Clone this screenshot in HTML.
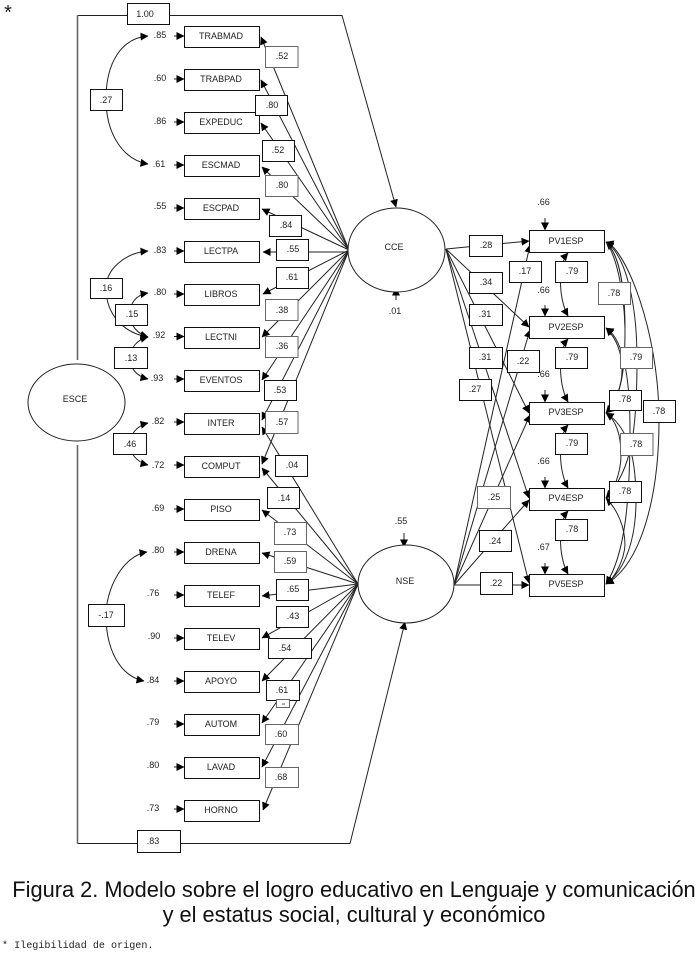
<!DOCTYPE html>
<html><head><meta charset="utf-8"><title>Figura 2</title>
<style>
html,body{margin:0;padding:0;background:#fff;width:698px;height:955px;overflow:hidden}
svg{display:block;position:absolute;left:0;top:0}
text{font-family:"Liberation Sans",Arial,sans-serif;font-size:9px;fill:#222;text-anchor:middle}
.l{fill:none;stroke:#222;stroke-width:1}
rect{fill:#fff;stroke:#111;stroke-width:1}
rect.g{stroke:#666}
</style></head><body>
<svg width="698" height="955" viewBox="0 0 698 955" xmlns="http://www.w3.org/2000/svg">
<defs>
<marker id="a" viewBox="0 0 8 8" refX="7.5" refY="4" markerWidth="8" markerHeight="8" markerUnits="userSpaceOnUse" orient="auto-start-reverse"><path d="M0,0L8,4L0,8z" fill="#000"/></marker>
</defs>

<!-- outer frame -->
<path d="M77.5,15.5H342L396,207" class="l" marker-end="url(#a)"/>
<path d="M77.5,843.5H350L405,622" class="l" marker-end="url(#a)"/>
<path d="M77.5,360V15.5M77.5,445V843.5" fill="none" stroke="#666" stroke-width="1.6"/>

<!-- residual arrows left -->
<path class="l" marker-end="url(#a)" d="M174,36H184"/><path class="l" marker-end="url(#a)" d="M174,79H184"/><path class="l" marker-end="url(#a)" d="M174,122H184"/><path class="l" marker-end="url(#a)" d="M174,165H184"/><path class="l" marker-end="url(#a)" d="M174,208H184"/><path class="l" marker-end="url(#a)" d="M174,251H184"/><path class="l" marker-end="url(#a)" d="M174,294H184"/><path class="l" marker-end="url(#a)" d="M174,336.5H184"/><path class="l" marker-end="url(#a)" d="M174,379H184"/><path class="l" marker-end="url(#a)" d="M174,422H184"/><path class="l" marker-end="url(#a)" d="M174,465H184"/><path class="l" marker-end="url(#a)" d="M174,509H184"/><path class="l" marker-end="url(#a)" d="M174,552H184"/><path class="l" marker-end="url(#a)" d="M174,595H184"/><path class="l" marker-end="url(#a)" d="M174,638H184"/><path class="l" marker-end="url(#a)" d="M174,681H184"/><path class="l" marker-end="url(#a)" d="M174,724H184"/><path class="l" marker-end="url(#a)" d="M174,767H184"/><path class="l" marker-end="url(#a)" d="M174,809H184"/>

<!-- covariances left -->
<path class="l" marker-start="url(#a)" marker-end="url(#a)" d="M148,36C122,38 106,62 106,99C106,135 124,160 148,164"/>
<path class="l" marker-start="url(#a)" marker-end="url(#a)" d="M148,251C124,253 106,270 106,288C106,315 124,333 148,337"/>
<path class="l" marker-start="url(#a)" marker-end="url(#a)" d="M148,293C135,295 130,304 130,314C130,326 138,334 148,337"/>
<path class="l" marker-start="url(#a)" marker-end="url(#a)" d="M148,337C136,340 130,349 130,358C130,368 136,376 148,379"/>
<path class="l" marker-start="url(#a)" marker-end="url(#a)" d="M148,423C136,426 130,435 130,444C130,453 136,462 148,465"/>
<path class="l" marker-start="url(#a)" marker-end="url(#a)" d="M147,552C122,556 106,590 106,615C106,650 120,676 144,681"/>

<!-- CCE paths -->
<path class="l" marker-end="url(#a)" d="M349,250L261,37"/>
<path class="l" marker-end="url(#a)" d="M349,250L261,80"/>
<path class="l" marker-end="url(#a)" d="M349,250L261,123"/>
<path class="l" marker-end="url(#a)" d="M349,250L262,167"/>
<path class="l" marker-end="url(#a)" d="M349,250L262,209"/>
<path class="l" marker-end="url(#a)" d="M349,252H263"/>
<path class="l" marker-end="url(#a)" d="M349,250L263,294"/>
<path class="l" marker-end="url(#a)" d="M349,250L262,337"/>
<path class="l" marker-end="url(#a)" d="M349,250L262,380"/>
<path class="l" marker-end="url(#a)" d="M349,250L262,420"/>
<path class="l" marker-end="url(#a)" d="M349,250L262,464"/>
<!-- NSE paths -->
<path class="l" marker-end="url(#a)" d="M358,584L262,427"/>
<path class="l" marker-end="url(#a)" d="M358,584L262,468"/>
<path class="l" marker-end="url(#a)" d="M358,584L262,510"/>
<path class="l" marker-end="url(#a)" d="M358,584L262,553"/>
<path class="l" marker-end="url(#a)" d="M358,584L262,596"/>
<path class="l" marker-end="url(#a)" d="M358,584L262,638"/>
<path class="l" marker-end="url(#a)" d="M358,584L262,681"/>
<path class="l" marker-end="url(#a)" d="M358,584L262,723"/>
<path class="l" marker-end="url(#a)" d="M358,584L262,767"/>
<path class="l" marker-end="url(#a)" d="M358,584L263,810"/>

<!-- right structural paths -->
<path class="l" marker-end="url(#a)" d="M446,249L529,241"/>
<path class="l" marker-end="url(#a)" d="M446,249L529,327"/>
<path class="l" marker-end="url(#a)" d="M446,249L529,413"/>
<path class="l" marker-end="url(#a)" d="M446,249L529,498"/>
<path class="l" marker-end="url(#a)" d="M446,249L529,583"/>
<path class="l" marker-end="url(#a)" d="M454,585L530,245"/>
<path class="l" marker-end="url(#a)" d="M454,585L530,330"/>
<path class="l" marker-end="url(#a)" d="M454,585L530,415"/>
<path class="l" marker-end="url(#a)" d="M454,585L529,500"/>
<path class="l" marker-end="url(#a)" d="M454,585H529"/>

<!-- residual arrows right -->
<path class="l" marker-end="url(#a)" d="M545,218V230"/>
<path class="l" marker-end="url(#a)" d="M545,305V316"/>
<path class="l" marker-end="url(#a)" d="M545,390V402"/>
<path class="l" marker-end="url(#a)" d="M545,477V488"/>
<path class="l" marker-end="url(#a)" d="M545,563V574"/>
<path class="l" marker-end="url(#a)" d="M396,300V288"/>
<path class="l" marker-end="url(#a)" d="M404,533V547"/>

<!-- between PV -->
<path class="l" marker-start="url(#a)" marker-end="url(#a)" d="M568,253C558,264 558,298 568,316"/>
<path class="l" marker-start="url(#a)" marker-end="url(#a)" d="M568,339C558,350 558,384 568,402"/>
<path class="l" marker-start="url(#a)" marker-end="url(#a)" d="M568,425C558,436 558,470 568,488"/>
<path class="l" marker-start="url(#a)" marker-end="url(#a)" d="M568,511C558,522 558,556 568,574"/>

<!-- right covariances -->
<path class="l" marker-start="url(#a)" marker-end="url(#a)" d="M606,242C625,248 659,330 659,420C659,500 640,565 606,584"/>
<path class="l" marker-start="url(#a)" marker-end="url(#a)" d="M606,242C625,255 637,300 637,360C637,430 632,470 606,498"/>
<path class="l" marker-start="url(#a)" marker-end="url(#a)" d="M606,242C620,255 625,290 625,330C625,370 622,395 606,413"/>
<path class="l" d="M606,242C616,255 624,290 625,328"/>
<path class="l" marker-start="url(#a)" marker-end="url(#a)" d="M606,328C616,338 622,352 622,370C622,388 614,406 606,413"/>
<path class="l" marker-start="url(#a)" marker-end="url(#a)" d="M606,328C622,338 630,372 630,430C630,500 625,555 606,584"/>
<path class="l" marker-start="url(#a)" marker-end="url(#a)" d="M606,413C625,425 636,450 636,500C636,540 625,570 606,584"/>
<path class="l" marker-start="url(#a)" marker-end="url(#a)" d="M606,413C616,420 621,435 621,455C621,470 615,490 606,498"/>
<path class="l" marker-start="url(#a)" marker-end="url(#a)" d="M606,498C618,510 625,528 625,545C624,560 615,578 606,584"/>

<!-- ellipses -->
<ellipse cx="76.5" cy="402.5" rx="48.5" ry="38.5" fill="#fff" stroke="#222"/>
<ellipse cx="396.5" cy="250" rx="48.5" ry="42" fill="#fff" stroke="#222"/>
<ellipse cx="406" cy="584" rx="48" ry="39" fill="#fff" stroke="#222"/>
<text x="75" y="402">ESCE</text>
<text x="394" y="250">CCE</text>
<text x="405" y="584">NSE</text>

<!-- variable boxes -->
<rect x="184.5" y="26.5" width="75" height="21"/><text x="221" y="39">TRABMAD</text>
<rect x="184.5" y="69.5" width="75" height="21"/><text x="221" y="82">TRABPAD</text>
<rect x="184.5" y="112.5" width="75" height="21"/><text x="221" y="125">EXPEDUC</text>
<rect x="184.5" y="155.5" width="75" height="21"/><text x="221" y="168">ESCMAD</text>
<rect x="184.5" y="198.5" width="75" height="21"/><text x="221" y="211">ESCPAD</text>
<rect x="184.5" y="241.5" width="75" height="21"/><text x="221" y="254">LECTPA</text>
<rect x="184.5" y="284.5" width="75" height="21"/><text x="221" y="297">LIBROS</text>
<rect x="184.5" y="327.5" width="75" height="21"/><text x="221" y="340">LECTNI</text>
<rect x="184.5" y="370.5" width="75" height="21"/><text x="221" y="383">EVENTOS</text>
<rect x="184.5" y="413.5" width="75" height="21"/><text x="221" y="426">INTER</text>
<rect x="184.5" y="456.5" width="75" height="21"/><text x="221" y="469">COMPUT</text>
<rect x="184.5" y="499.5" width="75" height="21"/><text x="221" y="512">PISO</text>
<rect x="184.5" y="542.5" width="75" height="21"/><text x="221" y="555">DRENA</text>
<rect x="184.5" y="585.5" width="75" height="21"/><text x="221" y="598">TELEF</text>
<rect x="184.5" y="628.5" width="75" height="21"/><text x="221" y="641">TELEV</text>
<rect x="184.5" y="671.5" width="75" height="21"/><text x="221" y="684">APOYO</text>
<rect x="184.5" y="714.5" width="75" height="21"/><text x="221" y="727">AUTOM</text>
<rect x="184.5" y="757.5" width="75" height="21"/><text x="221" y="770">LAVAD</text>
<rect x="184.5" y="800.5" width="75" height="21"/><text x="221" y="813">HORNO</text>

<!-- residual labels left -->
<text x="160" y="38">.85</text><text x="160" y="81">.60</text><text x="160" y="124">.86</text><text x="159" y="167">.61</text><text x="160" y="209">.55</text><text x="160" y="253">.83</text><text x="160" y="295">.80</text><text x="159" y="338">.92</text><text x="157" y="381">.93</text><text x="158" y="424">.82</text><text x="158" y="468">.72</text><text x="158" y="511">.69</text><text x="158" y="553">.80</text><text x="153" y="596">.76</text><text x="154" y="639">.90</text><text x="153" y="683">.84</text><text x="153" y="725">.79</text><text x="153" y="768">.80</text><text x="153" y="811">.73</text>

<!-- coefficient boxes -->
<rect x="127.5" y="3.5" width="42" height="21"/><text x="145" y="17">1.00</text>
<rect x="137.5" y="830.5" width="43" height="22"/><text x="153" y="844">.83</text>
<rect x="90.5" y="89.5" width="32" height="21"/><text x="106" y="103">.27</text>
<rect x="90.5" y="278.5" width="32" height="20"/><text x="106" y="291">.16</text>
<rect x="115.5" y="304.5" width="32" height="21"/><text x="132" y="317">.15</text>
<rect x="114.5" y="347.5" width="33" height="21"/><text x="131" y="361">.13</text>
<rect x="113.5" y="433.5" width="33" height="21"/><text x="130" y="447">.46</text>
<rect x="88.5" y="604.5" width="36" height="22"/><text x="106" y="618">-.17</text>

<rect class="g" x="265.5" y="46.5" width="32.5" height="21"/><text x="282" y="59">.52</text>
<rect x="255.5" y="95.5" width="32" height="20"/><text x="272" y="108">.80</text>
<rect x="262.5" y="140.5" width="32" height="21"/><text x="278" y="153">.52</text>
<rect class="g" x="265.5" y="175.5" width="32.5" height="21"/><text x="282" y="188">.80</text>
<rect x="269.5" y="215.5" width="32" height="21"/><text x="286" y="228">.84</text>
<rect x="276.5" y="239.5" width="32" height="21"/><text x="293" y="252">.55</text>
<rect x="276.5" y="267.5" width="32" height="21"/><text x="292" y="280">.61</text>
<rect class="g" x="265.5" y="299.5" width="32.5" height="21"/><text x="282" y="313">.38</text>
<rect class="g" x="265.5" y="336.5" width="32.5" height="21"/><text x="282" y="349">.36</text>
<rect x="264.5" y="380.5" width="32" height="20"/><text x="280" y="393">.53</text>
<rect class="g" x="265.5" y="411.5" width="32.5" height="22"/><text x="282" y="425">.57</text>
<rect x="275.5" y="455.5" width="32" height="21"/><text x="292" y="468">.04</text>
<rect x="267.5" y="487.5" width="32" height="21"/><text x="284" y="501">.14</text>
<rect class="g" x="274.5" y="522.5" width="32" height="22"/><text x="290" y="535">.73</text>
<rect class="g" x="274.5" y="551.5" width="32" height="21"/><text x="290" y="564">.59</text>
<rect x="276.5" y="579.5" width="32" height="21"/><text x="293" y="592">.65</text>
<rect x="276.5" y="606.5" width="32" height="21"/><text x="293" y="619">.43</text>
<rect x="268.5" y="638.5" width="43" height="20"/><text x="285" y="651">.54</text>
<rect x="266.5" y="680.5" width="33" height="20"/><text x="282" y="693">.61</text>
<rect class="g" x="276.5" y="699.5" width="13" height="8"/><text x="283" y="705" style="font-size:3px">.04</text>
<rect class="g" x="265.5" y="724.5" width="33" height="20"/><text x="281" y="737">.60</text>
<rect class="g" x="265.5" y="767.5" width="33" height="20"/><text x="281" y="780">.68</text>

<!-- right boxes -->
<rect x="529.5" y="230.5" width="75" height="22"/><text x="566" y="244">PV1ESP</text>
<rect x="529.5" y="316.5" width="75" height="22"/><text x="566" y="330">PV2ESP</text>
<rect x="529.5" y="402.5" width="75" height="22"/><text x="566" y="415">PV3ESP</text>
<rect x="529.5" y="488.5" width="75" height="22"/><text x="566" y="501">PV4ESP</text>
<rect x="529.5" y="574.5" width="75" height="22"/><text x="566" y="587">PV5ESP</text>

<text x="543.5" y="205">.66</text><text x="543.5" y="293">.66</text><text x="543.5" y="377">.66</text><text x="543.5" y="464">.66</text><text x="543.5" y="550">.67</text>
<text x="395" y="314">.01</text><text x="401" y="524">.55</text>

<rect x="469.5" y="235.5" width="33" height="21"/><text x="486" y="248">.28</text>
<rect x="469.5" y="272.5" width="33" height="21"/><text x="486" y="285">.34</text>
<rect x="469.5" y="304.5" width="33" height="21"/><text x="485" y="317">.31</text>
<rect x="469.5" y="347.5" width="33" height="21"/><text x="485" y="360">.31</text>
<rect x="459.5" y="379.5" width="32" height="21"/><text x="475" y="392">.27</text>
<rect x="509.5" y="261.5" width="32" height="21"/><text x="525" y="274">.17</text>
<rect x="507.5" y="350.5" width="32" height="22"/><text x="523" y="364">.22</text>
<rect x="555.5" y="261.5" width="32" height="21"/><text x="572" y="274">.79</text>
<rect x="555.5" y="347.5" width="32" height="21"/><text x="572" y="360">.79</text>
<rect x="555.5" y="433.5" width="32" height="21"/><text x="572" y="446">.79</text>
<rect x="555.5" y="519.5" width="32" height="21"/><text x="572" y="532">.78</text>
<rect class="g" x="598.5" y="282.5" width="32" height="22"/><text x="614" y="296">.78</text>
<rect class="g" x="620.5" y="347.5" width="32" height="21"/><text x="636" y="360">.79</text>
<rect x="609.5" y="390.5" width="32" height="20"/><text x="625" y="402">.78</text>
<rect x="643.5" y="400.5" width="32" height="22"/><text x="659" y="414">.78</text>
<rect class="g" x="620.5" y="433.5" width="32.5" height="22"/><text x="636" y="447">.78</text>
<rect x="609.5" y="481.5" width="32" height="21"/><text x="625" y="494">.78</text>
<rect class="g" x="477.5" y="486.5" width="33" height="22"/><text x="494" y="500">.25</text>
<rect x="479.5" y="530.5" width="32" height="21"/><text x="495" y="544">.24</text>
<rect x="480.5" y="572.5" width="32" height="22"/><text x="496" y="586">.22</text>

<text x="8" y="19" style="font-size:20px;fill:#222">*</text>

<text x="354" y="897" style="font-size:21.8px;fill:#111">Figura 2. Modelo sobre el logro educativo en Lenguaje y comunicación</text>
<text x="354" y="922" style="font-size:21.8px;fill:#111">y el estatus social, cultural y económico</text>
<text x="2" y="948" style="font-family:'Liberation Mono',monospace;font-size:10.1px;text-anchor:start;fill:#222">* Ilegibilidad de origen.</text>
</svg>
</body></html>
